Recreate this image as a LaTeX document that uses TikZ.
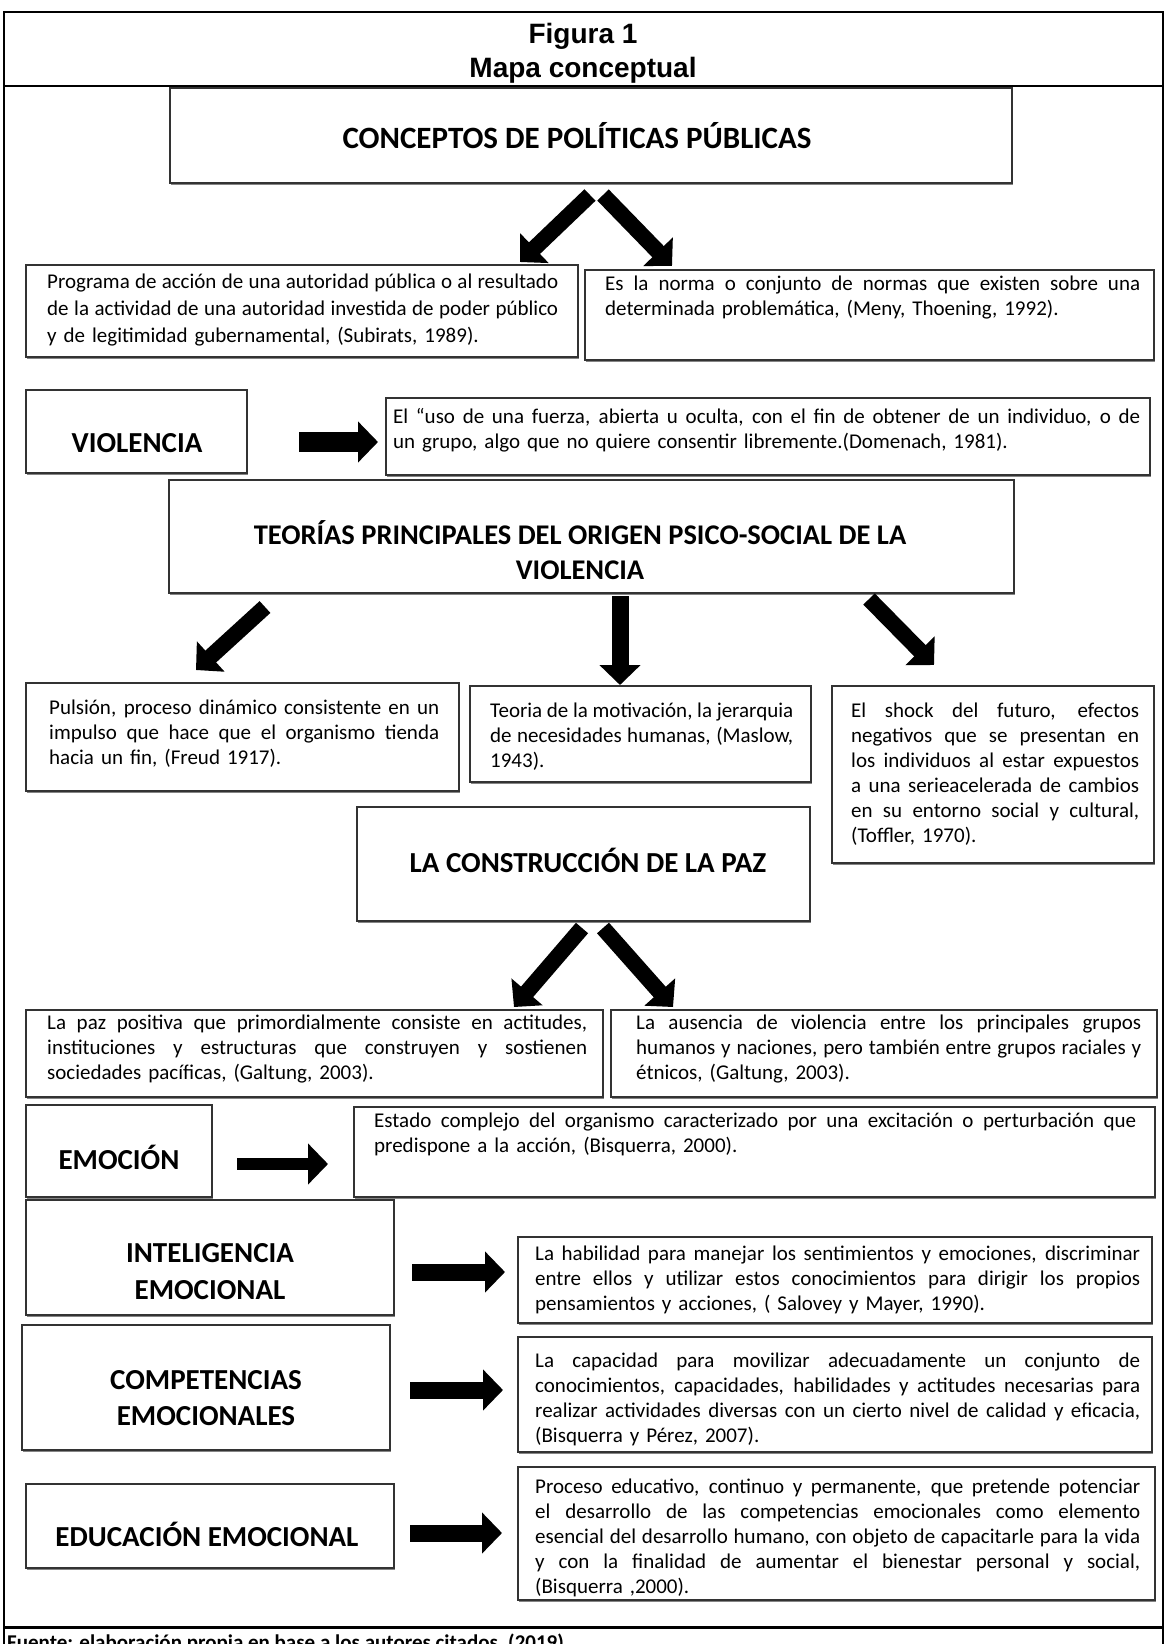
\documentclass[tikz,border=0pt]{standalone}
\usepackage{fontspec}
\setmainfont{Carlito}
\newfontfamily\titlefont{Liberation Sans}
\usetikzlibrary{arrows.meta,fit,shadows}
\setlength\parindent{0pt}
\def\curw{300pt}
\newcommand\setw[1]{\def\curw{#1}}
\newcommand\jl[1]{\hbox to \curw{\spaceskip=.226em plus 1fil minus .05em\relax #1}\par}
\newcommand\st{\rule{0pt}{17pt}}
\newcommand\hst{\rule{0pt}{26pt}}
\begin{document}
\begin{tikzpicture}[x=1pt,y=-1pt,
  box/.style={draw=black!80, line width=1.3pt, fill=white, inner sep=0pt,
    drop shadow={shadow xshift=1pt, shadow yshift=-2pt, fill=black!60, opacity=.8}},
  txt/.style={anchor=north west, inner sep=0pt, font=\fontsize{21}{25}\selectfont},
  head/.style={inner sep=0pt, font=\bfseries\fontsize{29}{36}\selectfont},
  ttl/.style={inner sep=0pt, anchor=base, font=\titlefont\bfseries\fontsize{28}{34}\selectfont},
  barrow/.style={line width=17pt, -{Triangle[width=40pt,length=20pt]}},
  sarrow/.style={line width=12pt, -{Triangle[width=40pt,length=20pt]}},
]
\useasboundingbox (0,0) rectangle (1165,1644);
% frame
\draw[line width=2.5pt] (4,1660) -- (4,12) -- (1163,12) -- (1163,1660);
\draw[line width=2.5pt] (4,86) -- (1163,86);
\draw[line width=3pt] (4,1627) -- (1163,1627);
\node[ttl] (fig) at (583,43) {Figura 1};
\node[ttl] (mapa) at (583,77) {Mapa conceptual};
\node[anchor=base west, inner sep=0pt, font=\bfseries\fontsize{21}{25}\selectfont] (fuente) at (7,1649) {Fuente: elaboración propia en base a los autores citados, (2019).};

% boxes
\node[box, fit={(170,88) (1012,183)}] (b1) {};
\node[box, fit={(26,265) (578,357)}] (b2) {};
\node[box, fit={(585,270) (1154,360)}] (b3) {};
\node[box, fit={(26,390) (247,473)}] (b4) {};
\node[box, fit={(386,398) (1150,475)}] (b5) {};
\node[box, fit={(169,480) (1014,593)}] (b6) {};
\node[box, fit={(26,683) (459,791)}] (b7) {};
\node[box, fit={(470,686) (811,782)}] (b8) {};
\node[box, fit={(832,686) (1154,863)}] (b9) {};
\node[box, fit={(357,807) (810,921)}] (b10) {};
\node[box, fit={(26,1010) (603,1097)}] (b11) {};
\node[box, fit={(611,1010) (1157,1097)}] (b12) {};
\node[box, fit={(26,1105) (212,1197)}] (b13) {};
\node[box, fit={(354,1107) (1155,1197)}] (b14) {};
\node[box, fit={(26,1200) (394,1315)}] (b15) {};
\node[box, fit={(518,1237) (1152,1323)}] (b16) {};
\node[box, fit={(22,1325) (390,1450)}] (b17) {};
\node[box, fit={(518,1337) (1152,1452)}] (b18) {};
\node[box, fit={(26,1484) (394,1568)}] (b19) {};
\node[box, fit={(518,1467) (1155,1600)}] (b20) {};

% headings
\node[head, anchor=base, font=\bfseries\fontsize{31}{36}\selectfont] (h1) at (577,148) {CONCEPTOS DE POLÍTICAS PÚBLICAS};
\node[head, anchor=base] (h4) at (137,452) {VIOLENCIA};
\node[head, anchor=north, text width=840pt, align=flush center, font=\bfseries\fontsize{28.5}{35}\selectfont] (h6) at (580,518) {\hst TEORÍAS PRINCIPALES DEL ORIGEN PSICO-SOCIAL DE LA\\VIOLENCIA};
\node[head, anchor=base] (h10) at (588,872) {LA CONSTRUCCIÓN DE LA PAZ};
\node[head, anchor=base] (h13) at (119,1169) {EMOCIÓN};
\node[head, anchor=north, text width=360pt, align=flush center, font=\bfseries\fontsize{29}{37}\selectfont] (h15) at (210,1236) {\hst INTELIGENCIA\\EMOCIONAL};
\node[head, anchor=north, text width=360pt, align=flush center, font=\bfseries\fontsize{29}{36}\selectfont] (h17) at (206,1363) {\hst COMPETENCIAS\\EMOCIONALES};
\node[head, anchor=base] (h19) at (207,1546) {EDUCACIÓN EMOCIONAL};

% body texts
\node[txt, text width=511pt, font=\fontsize{21}{27}\selectfont] (t2) at (47,271) {\setw{511pt}\jl{\st Programa de acción de una autoridad pública o al resultado}\jl{de la actividad de una autoridad investida de poder público}y de legitimidad gubernamental, (Subirats, 1989).};
\node[txt, text width=535pt] (t3) at (605,273) {\setw{535pt}\jl{\st Es la norma o conjunto de normas que existen sobre una}determinada problemática, (Meny, Thoening, 1992).};
\node[txt, text width=747pt] (t5) at (393,406) {\setw{747pt}\jl{\st El “uso de una fuerza, abierta u oculta, con el fin de obtener de un individuo, o de}un grupo, algo que no quiere consentir libremente.(Domenach, 1981).};
\node[txt, text width=390pt] (t7) at (49,697) {\setw{390pt}\jl{\st Pulsión, proceso dinámico consistente en un}\jl{impulso que hace que el organismo tienda}hacia un fin, (Freud 1917).};
\node[txt, text width=303pt] (t8) at (490,700) {\setw{303pt}\jl{\st Teoria de la motivación, la jerarquia}\jl{de necesidades humanas, (Maslow,}1943).};
\node[txt, text width=288pt] (t9) at (851,700) {\setw{288pt}\jl{\st El shock del futuro, efectos}\jl{negativos que se presentan en}\jl{los individuos al estar expuestos}\jl{a una serieacelerada de cambios}\jl{en su entorno social y cultural,}(Toffler, 1970).};
\node[txt, text width=540pt] (t11) at (47,1012) {\setw{540pt}\jl{\st La paz positiva que primordialmente consiste en actitudes,}\jl{instituciones y estructuras que construyen y sostienen}sociedades pacíficas, (Galtung, 2003).};
\node[txt, text width=505pt] (t12) at (636,1012) {\setw{505pt}\jl{\st La ausencia de violencia entre los principales grupos}\jl{humanos y naciones, pero también entre grupos raciales y}étnicos, (Galtung, 2003).};
\node[txt, text width=762pt] (t14) at (374,1110) {\setw{762pt}\jl{\st Estado complejo del organismo caracterizado por una excitación o perturbación que}predispone a la acción, (Bisquerra, 2000).};
\node[txt, text width=605pt] (t16) at (535,1243) {\setw{605pt}\jl{\st La habilidad para manejar los sentimientos y emociones, discriminar}\jl{entre ellos y utilizar estos conocimientos para dirigir los propios}pensamientos y acciones, ( Salovey y Mayer, 1990).};
\node[txt, text width=605pt] (t18) at (535,1350) {\setw{605pt}\jl{\st La capacidad para movilizar adecuadamente un conjunto de}\jl{conocimientos, capacidades, habilidades y actitudes necesarias para}\jl{realizar actividades diversas con un cierto nivel de calidad y eficacia,}(Bisquerra y Pérez, 2007).};
\node[txt, text width=605pt] (t20) at (535,1476) {\setw{605pt}\jl{\st Proceso educativo, continuo y permanente, que pretende potenciar}\jl{el desarrollo de las competencias emocionales como elemento}\jl{esencial del desarrollo humano, con objeto de capacitarle para la vida}\jl{y con la finalidad de aumentar el bienestar personal y social,}(Bisquerra ,2000).};

% arrows
\coordinate (a1s) at (590,195); \coordinate (a1e) at (520,262);
\coordinate (a2s) at (603,195); \coordinate (a2e) at (672,266);
\coordinate (a3s) at (299,442); \coordinate (a3e) at (378,442);
\coordinate (a4s) at (265,607); \coordinate (a4e) at (196,670);
\coordinate (a5s) at (620,596); \coordinate (a5e) at (620,685);
\coordinate (a6s) at (869,599); \coordinate (a6e) at (934,665);
\coordinate (a7s) at (582,928); \coordinate (a7e) at (514,1007);
\coordinate (a8s) at (603,928); \coordinate (a8e) at (673,1007);
\coordinate (a9s) at (237,1164); \coordinate (a9e) at (328,1164);
\coordinate (a10s) at (412,1272); \coordinate (a10e) at (505,1272);
\coordinate (a11s) at (410,1390); \coordinate (a11e) at (503,1390);
\coordinate (a12s) at (410,1533); \coordinate (a12e) at (502,1533);
\draw[barrow, line width=16pt] (a1s) -- (a1e);
\draw[barrow, line width=16pt] (a2s) -- (a2e);
\draw[barrow, line width=20pt] (a3s) -- (a3e);
\draw[barrow, line width=16pt] (a4s) -- (a4e);
\draw[barrow] (a5s) -- (a5e);
\draw[barrow, line width=16pt] (a6s) -- (a6e);
\draw[barrow, line width=16pt] (a7s) -- (a7e);
\draw[barrow, line width=16pt] (a8s) -- (a8e);
\draw[sarrow] (a9s) -- (a9e);
\draw[barrow] (a10s) -- (a10e);
\draw[barrow] (a11s) -- (a11e);
\draw[barrow] (a12s) -- (a12e);
\end{tikzpicture}
\end{document}
